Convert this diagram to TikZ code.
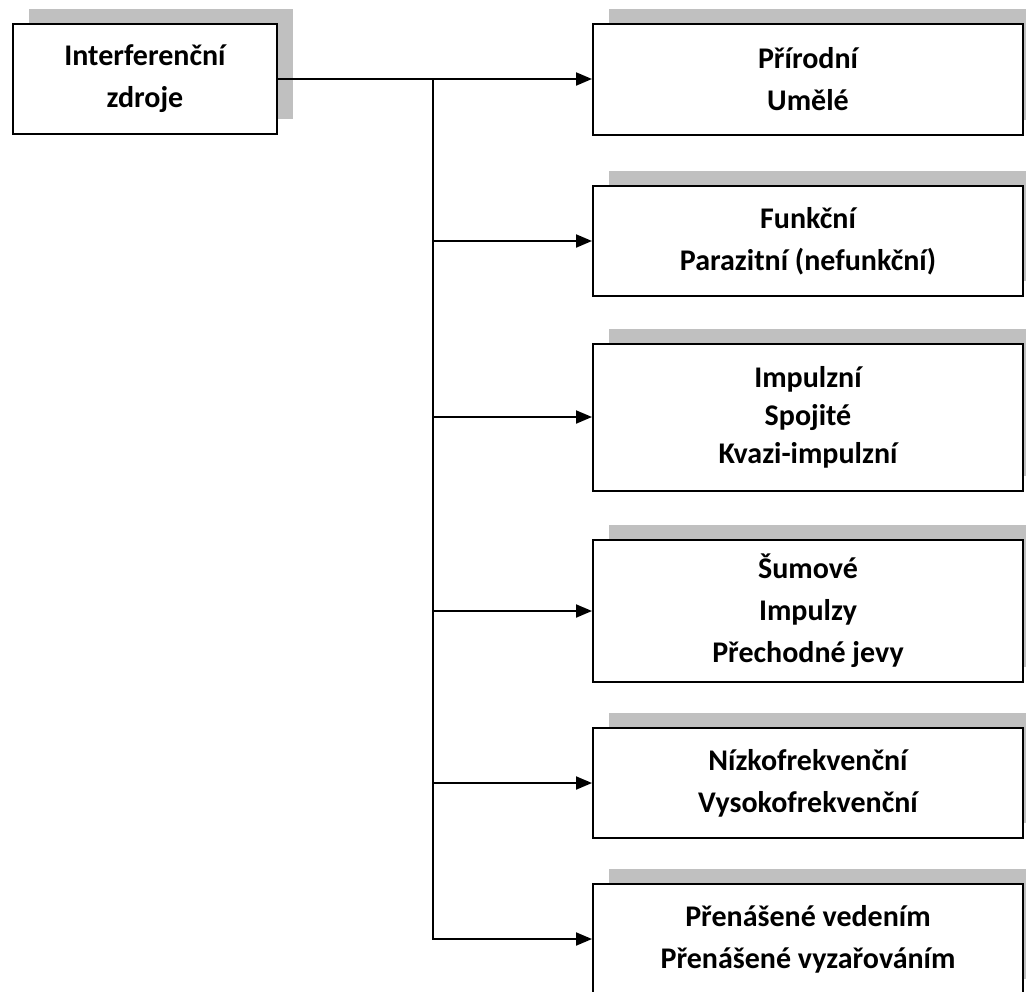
\documentclass[tikz,border=0pt]{standalone}
\usepackage{fontspec}
\setmainfont{Carlito}
\usetikzlibrary{arrows.meta,shadows}
\definecolor{shadegray}{RGB}{192,192,192}

\begin{document}
\begin{tikzpicture}[x=0.5pt,y=-0.5pt,
    box/.style={draw, line width=1pt, fill=white, align=center,
      font=\bfseries\fontsize{15}{21}\selectfont,
      general shadow={fill=shadegray, shadow xshift=8pt, shadow yshift=7.5pt}},
    link/.style={line width=1pt, -{Triangle[length=8pt,width=6.5pt]}}]
  \useasboundingbox (0,0) rectangle (1026,991);
  \clip (0,0) rectangle (1026,991);

  % --- source
  \node[box, minimum width=132pt, minimum height=55pt] (src) at (145,79) {Interferenční\\zdroje};

  % --- kinds
  \foreach \n/\y/\h/\txt in {1/79/55.5/{Přírodní\\Umělé},
      2/241/55/{Funkční\\Parazitní (nefunkční)},
      3/417/73.5/{Impulzní\\[-2pt]Spojité\\[-2pt]Kvazi-impulzní},
      4/611/71/{Šumové\\Impulzy\\Přechodné jevy},
      5/783/55/{Nízkofrekvenční\\Vysokofrekvenční},
      6/939/55/{Přenášené vedením\\Přenášené vyzařováním}}{
    \node[box, minimum width=215pt, minimum height=\h pt] (k\n) at (808,\y) {\txt};}

  \coordinate (fork) at (433,79);
  \draw[link] (src.east) -- (k1.west);
  \foreach \n in {2,...,6}
    \draw[link] (fork) |- (k\n.west);
\end{tikzpicture}
\end{document}
